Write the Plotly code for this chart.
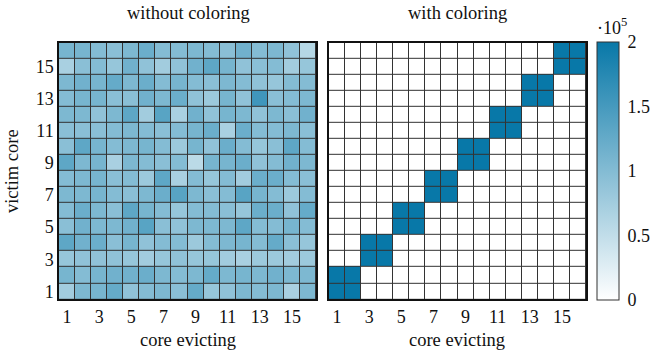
import plotly.graph_objects as go

# Eviction counts per (evicting core, victim core), in units of 1e5.
cores = list(range(1, 17))

# Rows listed from victim core 16 (top) down to victim core 1 (bottom)
without_coloring_top_down = [
    [1.10, 1.10, 1.00, 0.95, 1.05, 1.20, 1.00, 1.00, 1.05, 1.00, 0.95, 1.15, 1.00, 1.05, 0.90, 0.60],
    [0.70, 0.95, 1.00, 0.85, 1.15, 0.90, 0.75, 0.90, 1.15, 1.30, 1.10, 0.90, 0.95, 1.00, 0.75, 0.85],
    [1.05, 1.15, 1.10, 1.25, 1.05, 1.20, 1.00, 1.10, 1.00, 0.95, 1.05, 1.00, 0.90, 0.85, 1.00, 1.00],
    [1.00, 1.10, 1.10, 0.95, 0.95, 1.15, 1.05, 1.20, 0.90, 0.80, 1.10, 0.90, 1.55, 0.95, 1.00, 1.05],
    [1.05, 1.05, 0.90, 1.05, 1.30, 0.75, 1.35, 0.70, 1.15, 0.90, 1.10, 1.05, 0.90, 1.05, 0.95, 1.15],
    [0.95, 0.95, 0.95, 1.00, 1.05, 1.00, 0.95, 1.00, 1.10, 1.20, 0.70, 1.20, 1.00, 1.00, 1.05, 0.95],
    [0.95, 1.30, 1.10, 1.00, 1.05, 1.10, 1.00, 0.80, 1.10, 0.90, 1.20, 1.00, 0.85, 0.95, 1.30, 1.00],
    [1.30, 1.05, 1.10, 0.70, 1.05, 1.00, 0.95, 1.00, 0.55, 1.10, 1.10, 1.20, 0.90, 1.00, 1.15, 1.05],
    [1.00, 1.05, 1.10, 0.95, 1.00, 0.80, 1.30, 0.70, 1.00, 0.85, 1.00, 0.75, 1.20, 1.20, 1.00, 0.95],
    [1.05, 1.05, 1.10, 1.00, 0.95, 1.05, 1.20, 1.35, 1.05, 0.95, 1.00, 1.35, 1.10, 1.00, 0.80, 1.00],
    [1.00, 1.20, 1.05, 0.95, 1.30, 1.10, 1.00, 0.85, 1.00, 1.00, 0.95, 0.85, 1.20, 1.20, 0.90, 1.25],
    [0.95, 1.15, 1.05, 1.05, 1.15, 1.35, 0.95, 0.90, 1.05, 1.05, 1.05, 1.30, 1.00, 1.00, 1.10, 1.00],
    [1.30, 1.15, 1.20, 0.95, 1.10, 0.90, 1.00, 1.00, 0.80, 1.00, 1.05, 1.10, 1.00, 1.25, 0.95, 0.85],
    [0.85, 0.90, 0.90, 0.90, 0.85, 0.75, 0.85, 0.90, 0.85, 0.85, 0.75, 0.70, 0.80, 0.80, 0.75, 0.80],
    [1.10, 1.00, 1.10, 1.15, 1.15, 1.20, 1.05, 1.00, 1.05, 1.25, 1.05, 1.10, 1.05, 1.15, 1.05, 1.05],
    [0.75, 1.05, 1.10, 1.25, 0.90, 1.00, 1.05, 0.95, 1.25, 0.85, 0.90, 1.05, 1.00, 1.05, 0.70, 1.05],
]

# With coloring, cores only evict within their own pair: one value per 2x2 block
pair_block_values = [2.0, 2.0, 2.0, 2.0, 2.0, 2.0, 2.0, 2.0]

colorbar_ticks = [0, 0.5, 1, 1.5, 2]
axis_ticks = [1, 3, 5, 7, 9, 11, 13, 15]

SCALE = 1e5
z_without = [[v * SCALE for v in row] for row in reversed(without_coloring_top_down)]
z_with = [[0.0] * 16 for _ in range(16)]
for b, v in enumerate(pair_block_values):
    for i in (2 * b, 2 * b + 1):
        for j in (2 * b, 2 * b + 1):
            z_with[i][j] = v * SCALE

FONT = "Liberation Serif"
INK = "#111111"
colorscale = [[0, "#ffffff"], [1, "#0878a8"]]

fig = go.Figure()
common = dict(
    x=cores, y=cores, colorscale=colorscale, zmin=0, zmax=2 * SCALE,
    xgap=1, ygap=1, hoverinfo="skip",
)
fig.add_trace(go.Heatmap(z=z_without, xaxis="x", yaxis="y", showscale=False, **common))
fig.add_trace(go.Heatmap(
    z=z_with, xaxis="x2", yaxis="y2", showscale=True,
    colorbar=dict(
        x=597 / 651, xanchor="left", y=1 - 172 / 355, yanchor="middle",
        xpad=0, ypad=0,
        thickness=22, len=258, lenmode="pixels",
        outlinewidth=1, outlinecolor="#333",
        tickvals=[t * SCALE for t in colorbar_ticks],
        ticktext=[f"{t:g}" for t in colorbar_ticks],
        ticks="outside", ticklen=5, tickcolor="rgba(0,0,0,0)",
        tickfont=dict(family=FONT, size=18, color=INK),
    ),
    **common,
))

axis_common = dict(
    range=[0.5, 16.5], showgrid=False, zeroline=False,
    showline=True, mirror=True, linecolor=INK, linewidth=1.5,
    ticks="", tickfont=dict(family=FONT, size=18, color=INK),
    tickvals=axis_ticks,
)
ydom = [1 - 301 / 355, 1 - 43 / 355]
fig.update_layout(
    width=651, height=355,
    margin=dict(l=0, r=0, t=0, b=0),
    paper_bgcolor="white", plot_bgcolor="#333333",
    font=dict(family=FONT, color=INK),
    xaxis=dict(domain=[59 / 651, 316 / 651], anchor="y", **axis_common),
    yaxis=dict(domain=ydom, anchor="x", **axis_common),
    xaxis2=dict(domain=[329 / 651, 586 / 651], anchor="y2", **axis_common),
    yaxis2=dict(domain=ydom, anchor="x2", showticklabels=False,
                **{k: v for k, v in axis_common.items() if k != "tickvals"}),
)

def label(text, x, y, size=18.5, angle=0):
    fig.add_annotation(
        text=text, x=x / 651, y=1 - y / 355, xref="paper", yref="paper",
        showarrow=False, textangle=angle, xanchor="center", yanchor="middle",
        font=dict(family=FONT, size=size, color=INK),
    )

label("without coloring", 188, 13)
label("with coloring", 457, 13)
label("core evicting", 188, 342)
label("core evicting", 457, 342)
label("victim core", 12, 172, angle=-90)
label("·10<sup>5</sup>", 612, 27, size=18)

fig.write_html("out.html")
